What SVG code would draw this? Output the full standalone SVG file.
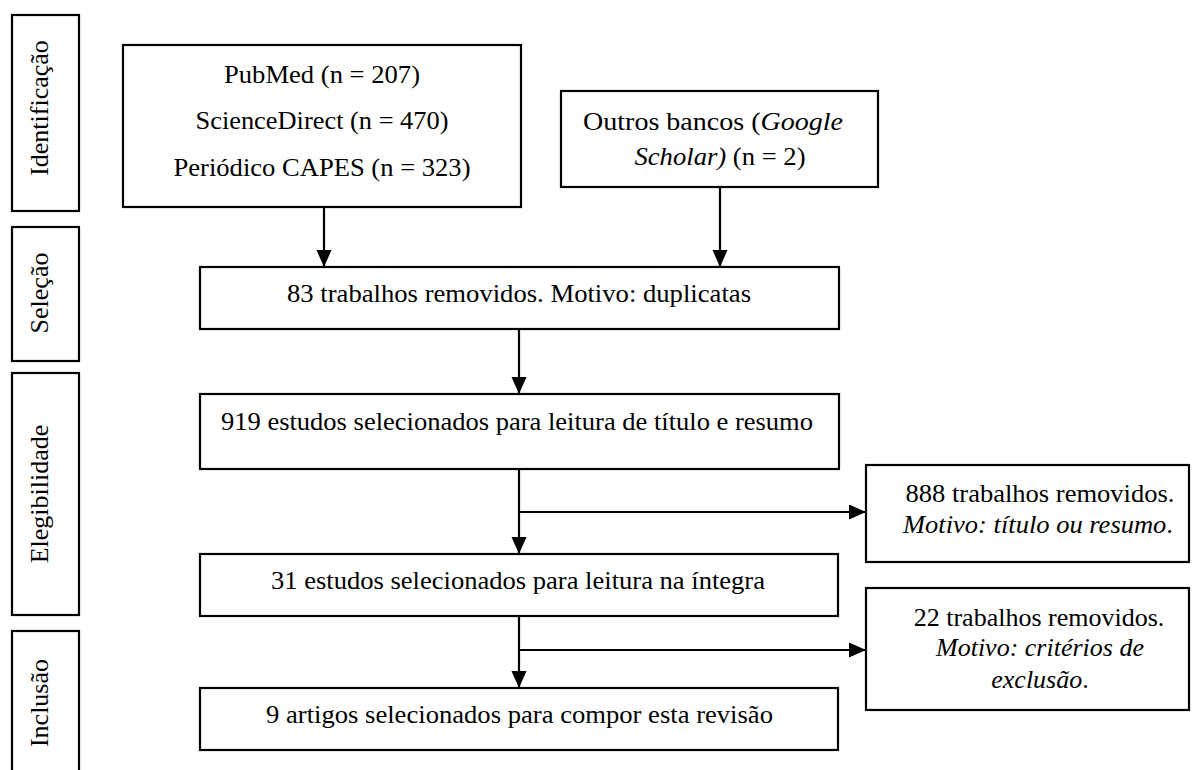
<svg xmlns="http://www.w3.org/2000/svg" width="1202" height="770" viewBox="0 0 1202 770">
<style>
.b{fill:#fff;stroke:#000;stroke-width:2.2}
.t{font-family:"Liberation Serif","Times New Roman",serif;font-size:26px;fill:#000}
.i{font-style:italic}
.c{stroke:#000;stroke-width:2.2;fill:none}
</style>
<defs>
<marker id="ah" markerUnits="userSpaceOnUse" markerWidth="18" markerHeight="16" refX="17" refY="7.5" orient="auto"><path d="M0,0 L17,7.5 L0,15 z" fill="#000"/></marker>
</defs>
<rect width="1202" height="770" fill="#fff"/>
<g id="stage-identificacao"><rect class="b" x="12" y="15" width="67" height="196"/><text class="t" text-anchor="middle" transform="translate(48,108) rotate(-90)">Identificação</text></g>
<g id="stage-selecao"><rect class="b" x="12" y="227" width="67" height="134"/><text class="t" text-anchor="middle" transform="translate(48,293) rotate(-90)">Seleção</text></g>
<g id="stage-elegibilidade"><rect class="b" x="12" y="373" width="67" height="242"/><text class="t" text-anchor="middle" transform="translate(48,494) rotate(-90)">Elegibilidade</text></g>
<g id="stage-inclusao"><rect class="b" x="12" y="631" width="67" height="160"/><text class="t" text-anchor="middle" transform="translate(48,703) rotate(-90)">Inclusão</text></g>
<g id="databases"><rect class="b" x="123" y="45" width="398" height="162"/>
<text class="t" x="322" y="83" text-anchor="middle" textLength="196" lengthAdjust="spacingAndGlyphs">PubMed (n = 207)</text>
<text class="t" x="322" y="129" text-anchor="middle" textLength="253" lengthAdjust="spacingAndGlyphs">ScienceDirect (n = 470)</text>
<text class="t" x="322" y="176" text-anchor="middle" textLength="297" lengthAdjust="spacingAndGlyphs">Periódico CAPES (n = 323)</text></g>
<g id="other-sources"><rect class="b" x="561" y="91" width="317" height="96"/>
<text class="t" x="583" y="130" textLength="260" lengthAdjust="spacingAndGlyphs">Outros bancos (<tspan class="i">Google</tspan></text>
<text class="t" x="720" y="165" text-anchor="middle" textLength="171" lengthAdjust="spacingAndGlyphs"><tspan class="i">Scholar)</tspan> (n = 2)</text></g>
<g id="duplicates"><rect class="b" x="200" y="267" width="639" height="62"/>
<text class="t" x="519" y="302" text-anchor="middle" textLength="464" lengthAdjust="spacingAndGlyphs">83 trabalhos removidos. Motivo: duplicatas</text></g>
<g id="screening"><rect class="b" x="200" y="394" width="639" height="75"/>
<text class="t" x="517" y="430" text-anchor="middle" textLength="592" lengthAdjust="spacingAndGlyphs">919 estudos selecionados para leitura de título e resumo</text></g>
<g id="fulltext"><rect class="b" x="200" y="554" width="638" height="62"/>
<text class="t" x="518" y="589" text-anchor="middle" textLength="494" lengthAdjust="spacingAndGlyphs">31 estudos selecionados para leitura na íntegra</text></g>
<g id="included"><rect class="b" x="200" y="688" width="638" height="62"/>
<text class="t" x="519.5" y="723" text-anchor="middle" textLength="507" lengthAdjust="spacingAndGlyphs">9 artigos selecionados para compor esta revisão</text></g>
<g id="excluded-title"><rect class="b" x="866" y="465" width="323" height="97"/>
<text class="t" x="1040" y="502" text-anchor="middle" textLength="269" lengthAdjust="spacingAndGlyphs">888 trabalhos removidos.</text>
<text class="t" x="1038" y="533" text-anchor="middle" textLength="270" lengthAdjust="spacingAndGlyphs"><tspan class="i">Motivo: título ou resumo</tspan>.</text></g>
<g id="excluded-criteria"><rect class="b" x="866" y="588" width="323" height="122"/>
<text class="t" x="1039" y="626" text-anchor="middle">22 trabalhos removidos.</text>
<text class="t i" x="1040" y="656" text-anchor="middle">Motivo: critérios de</text>
<text class="t" x="1040" y="688" text-anchor="middle"><tspan class="i">exclusão</tspan>.</text></g>
<g id="connectors">
<path class="c" d="M324,207 V267" marker-end="url(#ah)"/>
<path class="c" d="M720,187 V267" marker-end="url(#ah)"/>
<path class="c" d="M519,329 V394" marker-end="url(#ah)"/>
<path class="c" d="M519,469 V554" marker-end="url(#ah)"/>
<path class="c" d="M519,512 H866" marker-end="url(#ah)"/>
<path class="c" d="M519,616 V688" marker-end="url(#ah)"/>
<path class="c" d="M519,650 H866" marker-end="url(#ah)"/>
</g>
</svg>
